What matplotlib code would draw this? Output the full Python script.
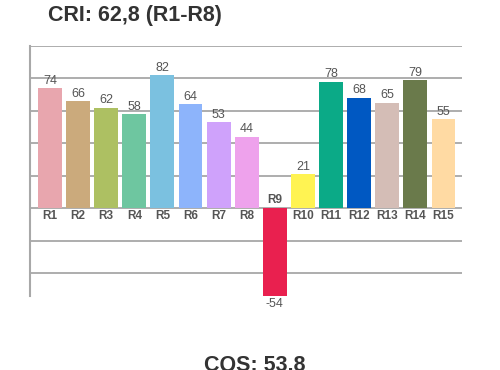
import matplotlib
matplotlib.use("Agg")
import matplotlib.pyplot as plt

categories = ["R1", "R2", "R3", "R4", "R5", "R6", "R7", "R8", "R9", "R10",
              "R11", "R12", "R13", "R14", "R15"]
values = [74, 66, 62, 58, 82, 64, 53, 44, -54, 21, 78, 68, 65, 79, 55]
colors = ["#E8A6AE", "#CBAA7C", "#ADC062", "#6EC6A0", "#7BC1E0", "#8DB4FB",
          "#CFA2FB", "#EEA2EC", "#E9204F", "#FFF352", "#0BAA87", "#0058C2",
          "#D4BDB6", "#6A7A4B", "#FFDAA3"]
title_text = "CRI: 62,8 (R1-R8)"
footer_text = "CQS: 53.8"
grid_levels = [100, 80, 60, 40, 20, 0, -20, -40]

FONT = ["Liberation Sans", "DejaVu Sans"]

fig = plt.figure(figsize=(5, 3.7), dpi=100)
ax = fig.add_axes([0.06, 0.2008, 0.864, 0.675])

x = list(range(len(values)))
ax.bar(x, values, width=0.85, color=colors, zorder=3)

for g in grid_levels:
    ax.axhline(g, color="#A0A0A0", lw=1.2, zorder=1)

for xi, v, c in zip(x, values, categories):
    if v >= 0:
        ax.annotate(str(v), (xi, v), xytext=(0, 1), textcoords="offset points",
                    ha="center", va="bottom", fontsize=9, color="#555555", family=FONT)
        ax.annotate(c, (xi, 0), xytext=(0, -1.5), textcoords="offset points",
                    ha="center", va="top", fontsize=8.5, fontweight="bold",
                    color="#555555", family=FONT)
    else:
        ax.annotate(str(v), (xi, v), xytext=(0, -2), textcoords="offset points",
                    ha="center", va="top", fontsize=9, color="#555555", family=FONT)
        ax.annotate(c, (xi, 0), xytext=(0, 1.5), textcoords="offset points",
                    ha="center", va="bottom", fontsize=8.5, fontweight="bold",
                    color="#555555", family=FONT)

ax.set_xlim(-0.71, 14.66)
ax.set_ylim(-54, 100)
ax.set_xticks([])
ax.set_yticks([])
for s in ["top", "right", "bottom"]:
    ax.spines[s].set_visible(False)
ax.spines["left"].set_color("#A8A8A8")
ax.spines["left"].set_linewidth(1.5)

fig.text(0.27, 0.958, title_text, ha="center", va="center", fontsize=15.5,
         fontweight="bold", color="#333333", family=FONT)
fig.text(0.51, -0.003, footer_text, ha="center", va="baseline", fontsize=15.5,
         fontweight="bold", color="#333333", family=FONT)

fig.savefig("out.png", dpi=100)
